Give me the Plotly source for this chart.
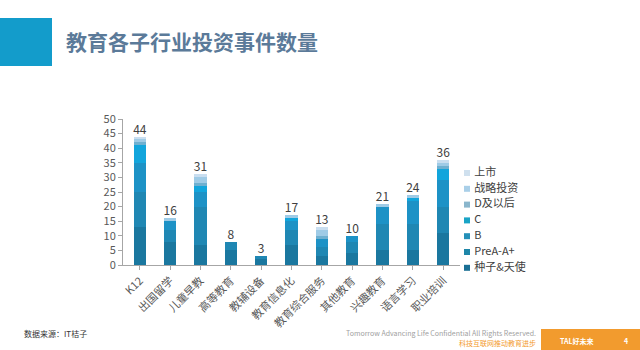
import plotly.graph_objects as go

categories = ["K12", "出国留学", "儿童早教", "高等教育", "教辅设备", "教育信息化",
              "教育综合服务", "其他教育", "兴趣教育", "语言学习", "职业培训"]
series_names = ["种子&天使", "PreA-A+", "B", "C", "D及以后", "战略投资", "上市"]
seed = [13, 8, 7, 5, 2, 7, 3, 4, 5, 5, 11]
prea = [12, 4, 13, 3, 1, 5, 3, 4, 9, 9, 9]
b_round = [10, 3, 5, 0, 0, 3, 3, 2, 6, 8, 9]
c_round = [6, 0, 2, 0, 0, 1, 0, 0, 0, 1, 4]
d_round = [1, 0, 1, 0, 0, 0, 1, 0, 0, 0, 1]
strategic = [1, 1, 2, 0, 0, 1, 2, 0, 1, 1, 1]
ipo = [1, 0, 1, 0, 0, 0, 1, 0, 0, 0, 1]
series_values = [seed, prea, b_round, c_round, d_round, strategic, ipo]
colors = ["#1a779f", "#1f87b3", "#1d92c6", "#12a5dc", "#6fb0d0", "#9fcbe6", "#c9def0"]
legend_colors = ["#1a6f94", "#1e86a8", "#2590b8", "#19a4c6", "#8ab6cc", "#a9cfe8", "#cfe0ee"]

totals = [sum(v) for v in zip(*series_values)]

W, H = 640, 350
FONT = "Noto Sans CJK SC"
fig = go.Figure()
for name, vals, col in zip(series_names, series_values, colors):
    fig.add_trace(go.Bar(x=categories, y=vals, name=name, marker_color=col,
                         marker_line_width=0, showlegend=False))
fig.add_trace(go.Scatter(x=categories, y=totals, mode="text", text=[str(t) for t in totals],
                         textposition="top center", showlegend=False,
                         textfont=dict(size=12, color="#404040", family=FONT),
                         hoverinfo="skip", cliponaxis=False))

# legend drawn on an auxiliary pixel-space axis (top item = last series)
n = len(series_names)
leg_y = [173 + 15.8 * (n - 1 - i) for i in range(n)]
fig.add_trace(go.Scatter(x=[467] * n, y=leg_y, mode="markers+text",
                         text=[" " + s for s in series_names], textposition="middle right",
                         marker=dict(symbol="square", size=6, color=legend_colors),
                         textfont=dict(size=11, color="#404040", family=FONT),
                         xaxis="x2", yaxis="y2", showlegend=False, hoverinfo="skip",
                         cliponaxis=False))

fig.update_layout(
    width=W, height=H, barmode="stack", bargap=0.6,
    paper_bgcolor="white", plot_bgcolor="white",
    margin=dict(l=0, r=0, t=0, b=0, autoexpand=False),
    font=dict(family=FONT, color="#595959", size=11),
    showlegend=False,
    xaxis=dict(domain=[123 / W, 460 / W], tickangle=-45, showline=True, linecolor="#a6a6a6",
               ticks="outside", ticklen=4, tickcolor="#a6a6a6",
               tickfont=dict(size=11, color="#595959"), showgrid=False),
    yaxis=dict(domain=[(H - 265) / H, (H - 119) / H], range=[0, 50], dtick=5, showline=True,
               linecolor="#a6a6a6", ticks="outside", ticklen=4, tickcolor="#a6a6a6",
               showgrid=False, zeroline=False, tickfont=dict(size=11, color="#595959")),
    xaxis2=dict(domain=[460 / W, 1], range=[460, W], visible=False, fixedrange=True),
    yaxis2=dict(domain=[0, 1], range=[H, 0], visible=False, fixedrange=True, anchor="x2"),
)

def px(xp, yp):
    return xp / W, (H - yp) / H

x0, y0 = px(0, 66); x1, y1 = px(52, 18)
x2, y2 = px(541, 350); x3, y3 = px(640, 329)
shapes = [
    dict(type="rect", xref="paper", yref="paper", x0=x0, x1=x1, y0=y0, y1=y1,
         fillcolor="#139ccb", line_width=0, layer="above"),
    dict(type="rect", xref="paper", yref="paper", x0=x2, x1=x3, y0=y2, y1=y3,
         fillcolor="#f29b2e", line_width=0),
]
fig.update_layout(shapes=shapes)

annos = []
def add(xp, yp, text, size, color, anchor="left"):
    x, y = px(xp, yp)
    annos.append(dict(x=x, y=y, xref="paper", yref="paper", xanchor=anchor, yanchor="middle",
                      text=text, showarrow=False,
                      font=dict(size=size, color=color, family=FONT)))

add(64, 41, "<b>教育各子行业投资事件数量</b>", 21, "#5b7a99")
add(22, 333, "数据来源：IT桔子", 8, "#333333")
add(538, 333, "Tomorrow Advancing Life Confidential All Rights Reserved.", 7, "#a0a0a0", "right")
add(538, 343, "科技互联网推动教育进步", 7, "#f39a2c", "right")
add(577, 341, "<b>TAL好未来</b>", 7, "white", "center")
add(626, 341, "<b>4</b>", 7, "white", "center")
fig.update_layout(annotations=annos)

fig.write_html("out.html")
